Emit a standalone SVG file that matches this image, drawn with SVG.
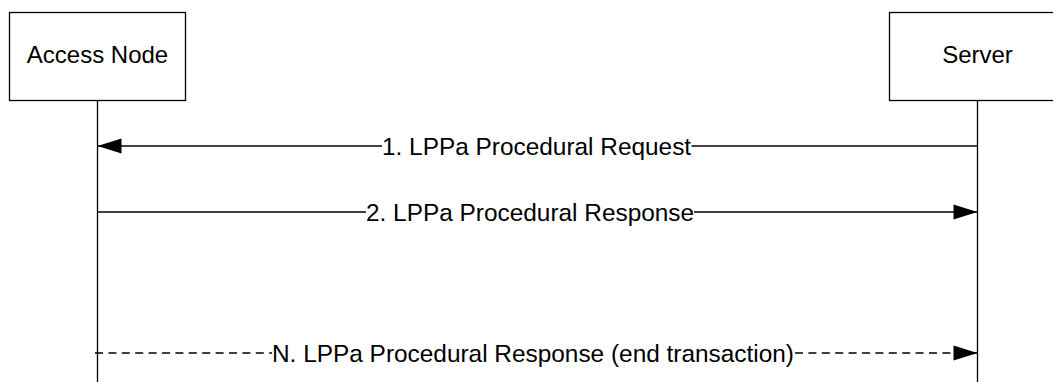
<svg xmlns="http://www.w3.org/2000/svg" width="1053" height="382" viewBox="0 0 1053 382">
<style>
.box{fill:#fff;stroke:#000;stroke-width:1.3}
.life{stroke:#000;stroke-width:1.3;fill:none}
.msg{stroke:#000;stroke-width:1.3;fill:none}
.dash{stroke-dasharray:8 5.4}
.lbl{font-family:"Liberation Sans",Arial,sans-serif;font-size:24px;fill:#000;text-anchor:middle}
.mlbl{font-family:"Liberation Sans",Arial,sans-serif;font-size:24.4px;fill:#000;text-anchor:start}
</style>
<defs>
<marker id="arr" markerUnits="userSpaceOnUse" markerWidth="24" markerHeight="15" refX="24" refY="7.5" orient="auto" overflow="visible">
<path d="M0,0 L24,7.5 L0,15 Z" fill="#000"/>
</marker>
</defs>
<rect width="1053" height="382" fill="#fff"/>
<g id="access-node">
<rect class="box" x="9.5" y="12.5" width="176" height="88"/>
<line class="life" x1="97.5" y1="100.5" x2="97.5" y2="382"/>
<text class="lbl" x="97.5" y="62.5">Access Node</text>
</g>
<g id="server">
<rect class="box" x="889.5" y="12.5" width="176" height="88"/>
<line class="life" x1="977.5" y1="100.5" x2="977.5" y2="382"/>
<text class="lbl" x="977.5" y="62.5">Server</text>
</g>
<g id="connectors">
<g id="msg1">
<line class="msg" x1="977.5" y1="146" x2="691.5" y2="146"/>
<line class="msg" x1="382" y1="146" x2="97.5" y2="146" marker-end="url(#arr)"/>
<text class="mlbl" x="382" y="154.5">1. LPPa Procedural Request</text>
</g>
<g id="msg2">
<line class="msg" x1="97.5" y1="212" x2="366" y2="212"/>
<line class="msg" x1="694" y1="212" x2="977.5" y2="212" marker-end="url(#arr)"/>
<text class="mlbl" x="366" y="220.5">2. LPPa Procedural Response</text>
</g>
<g id="msgN">
<line class="msg dash" x1="95" y1="353" x2="272" y2="353"/>
<line class="msg dash" x1="795" y1="353" x2="977.5" y2="353" marker-end="url(#arr)"/>
<text class="mlbl" x="272" y="361.5">N. LPPa Procedural Response (end transaction)</text>
</g>
</g>
</svg>
